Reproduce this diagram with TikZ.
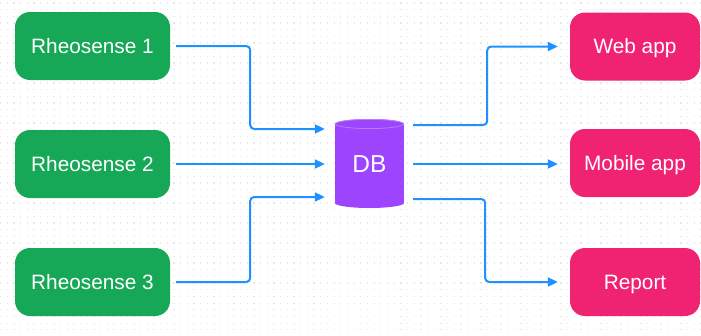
\documentclass[tikz,border=0pt]{standalone}
\usepackage{fontspec}
\setmainfont{Liberation Sans}
\usetikzlibrary{arrows.meta}
\definecolor{boxgreen}{HTML}{17A857}
\definecolor{boxpink}{HTML}{F02272}
\definecolor{dbpurple}{HTML}{9D44FF}
\definecolor{dbedge}{HTML}{B77CFF}
\definecolor{linkblue}{HTML}{1E90FF}
\definecolor{dotgray}{HTML}{E6E6E6}
\tikzset{
  srcbox/.style={fill=boxgreen, rounded corners=15pt, minimum width=155pt, minimum height=68pt, text=white, inner sep=0pt, text height=14.7pt, text depth=0pt, font=\fontsize{20.8}{24}\selectfont},
  dstbox/.style={fill=boxpink, rounded corners=15pt, minimum width=130pt, minimum height=68pt, text=white, inner sep=0pt, text height=14.7pt, text depth=0pt, font=\fontsize{20.8}{24}\selectfont},
  dbarea/.style={minimum width=69pt, minimum height=88pt, inner sep=0pt, text=white, text height=17.5pt, text depth=0pt, font=\fontsize{24.5}{28}\selectfont},
  conn/.style={draw=linkblue, line width=2pt, rounded corners=4pt, -{Triangle[length=10pt,width=9pt]}},
  dotline/.style={draw=dotgray, line width=1.3pt, dash pattern=on 1.3pt off 5.37pt}
}
\begin{document}
\begin{tikzpicture}[x=1pt,y=-1pt]
\useasboundingbox (0,0) rectangle (701,335);
\fill[white] (0,0) rectangle (701,335);
\foreach \i in {0,...,50} {
  \draw[dotline] (0,{\i*6.67+3}) -- (701,{\i*6.67+3});
}
% sources
\node[srcbox] (r1) at (92.5,46) {Rheosense 1};
\node[srcbox] (r2) at (92.5,164) {Rheosense 2};
\node[srcbox] (r3) at (92.5,282) {Rheosense 3};
% destinations
\node[dstbox] (web) at (635,46.5) {Web app};
\node[dstbox] (mob) at (635,163) {Mobile app};
\node[dstbox] (rep) at (635,282) {Report};
% database cylinder
\fill[dbpurple] (335,124) rectangle (404,203);
\fill[dbpurple] (369.5,203) ellipse [x radius=34.5, y radius=5];
\fill[dbpurple] (369.5,124) ellipse [x radius=34.5, y radius=5];
\draw[dbedge, line width=0.8pt] (369.5,124) ellipse [x radius=34, y radius=4.6];
\node[dbarea] (db) at (369.5,164) {DB};
% incoming
\draw[conn] ([xshift=6pt]r1.east) -- ++(74,0) |- ([xshift=-10pt,yshift=35pt]db.west);
\draw[conn] ([xshift=6pt]r2.east) -- ([xshift=-10pt]r2.east -| db.west);
\draw[conn] ([xshift=6pt]r3.east) -- ++(74,0) |- ([xshift=-10pt,yshift=-33pt]db.west);
% outgoing
\draw[conn] ([xshift=9pt,yshift=39pt]db.east) -- ++(74,0) |- ([xshift=-12pt]web.west);
\draw[conn] ([xshift=9pt]db.east) -- ([xshift=-12pt]db.east -| mob.west);
\draw[conn] ([xshift=9pt,yshift=-35pt]db.east) -- ++(72,0) |- ([xshift=-12pt]rep.west);
\end{tikzpicture}
\end{document}
